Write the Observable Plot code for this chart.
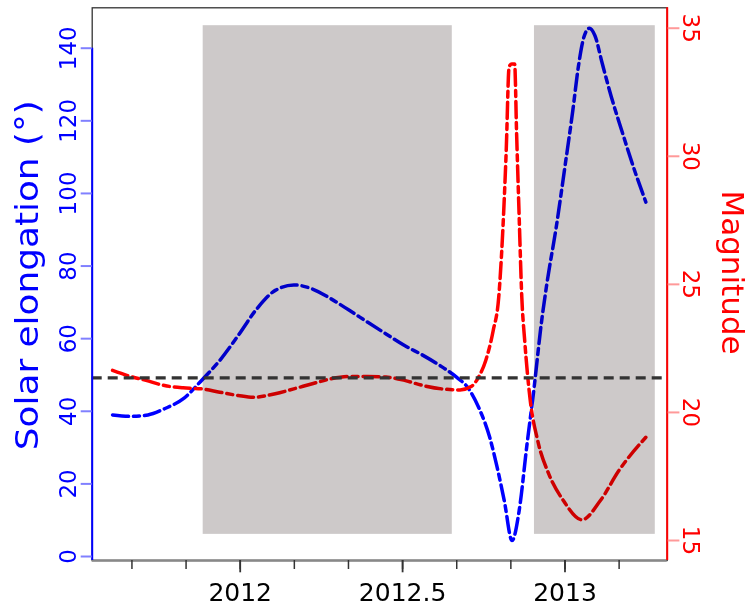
<!DOCTYPE html>
<html><head><meta charset="utf-8">
<script src="https://cdn.jsdelivr.net/npm/d3@7"></script>
<script src="https://cdn.jsdelivr.net/npm/@observablehq/plot@0.6"></script>
<style>html,body{margin:0;padding:0;background:#fff} svg{display:block}</style>
</head><body><div id="chart"></div>
<script>
// Solar elongation (degrees) vs decimal year
const blueYears = [2011.607, 2011.664, 2011.716, 2011.767, 2011.824, 2011.881, 2011.937, 2011.994, 2012.051, 2012.108, 2012.165, 2012.222, 2012.279, 2012.336, 2012.393, 2012.449, 2012.506, 2012.563, 2012.620, 2012.666, 2012.700, 2012.734, 2012.768, 2012.791, 2012.813, 2012.837, 2012.859, 2012.882, 2012.905, 2012.927, 2012.944, 2012.973, 2013.001, 2013.024, 2013.041, 2013.058, 2013.075, 2013.092, 2013.115, 2013.143, 2013.178, 2013.211, 2013.249];
const blueElong = [39.0, 38.6, 39.0, 40.7, 43.4, 48.5, 54.0, 60.9, 68.2, 73.3, 74.8, 73.7, 71.0, 67.8, 64.5, 61.3, 58.1, 55.4, 52.3, 49.4, 46.6, 41.1, 32.9, 24.6, 15.4, 4.4, 12.7, 30.1, 46.6, 64.1, 75.0, 90.7, 108.1, 122.8, 134.8, 143.0, 145.5, 143.5, 135.7, 126.5, 116.4, 107.2, 97.6];

// Magnitude vs decimal year
const redYears = [2011.607, 2011.653, 2011.710, 2011.767, 2011.824, 2011.881, 2011.937, 2011.994, 2012.040, 2012.108, 2012.165, 2012.222, 2012.279, 2012.336, 2012.393, 2012.449, 2012.506, 2012.563, 2012.620, 2012.677, 2012.711, 2012.734, 2012.756, 2012.779, 2012.796, 2012.808, 2012.819, 2012.828, 2012.836, 2012.845, 2012.851, 2012.859, 2012.867, 2012.876, 2012.893, 2012.916, 2012.950, 2012.995, 2013.052, 2013.109, 2013.166, 2013.249];
const redMag = [21.64, 21.44, 21.25, 21.05, 20.96, 20.92, 20.79, 20.66, 20.59, 20.73, 20.92, 21.12, 21.31, 21.40, 21.40, 21.38, 21.25, 21.05, 20.92, 20.88, 21.01, 21.38, 22.03, 23.20, 24.50, 26.97, 30.2, 33.5, 33.6, 33.6, 30.9, 27.6, 24.5, 22.8, 20.47, 18.90, 17.60, 16.56, 15.81, 16.56, 17.73, 19.03];

// Shaded periods
const shadeStart = [2011.886, 2012.906];
const shadeEnd = [2012.653, 2013.278];
const shadeLow = 6.1, shadeHigh = 146.2;

// Horizontal threshold (elongation units)
const threshold = 49.2;

// Tick values / labels
const elongTicks = [0, 20, 40, 60, 80, 100, 120, 140];
const magTicks = [15, 20, 25, 30, 35];
const xMinorTicks = [2011 + 8/12, 2011 + 10/12, 2012, 2012 + 2/12, 2012 + 4/12, 2012.5, 2012 + 8/12, 2012 + 10/12, 2013, 2013 + 2/12];
const xMajorTicks = [2012, 2012.5, 2013];

const xDomain = [2011.5443, 2013.3147];
const yDomain = [-1.10, 151.13];

// magnitude <-> elongation-axis mapping (secondary axis)
const magToElong = m => 4.407 + (m - 15) * 7.055;
const elongToMag = v => 15 + (v - 4.407) / 7.055;

const blue = blueYears.map((x, i) => ({x, y: blueElong[i]}));
const red = redYears.map((x, i) => ({x, y: magToElong(redMag[i])}));
const shades = shadeStart.map((x1, i) => ({x1, x2: shadeEnd[i], y1: shadeLow, y2: shadeHigh}));

const mL = 91.7, mR = 83.3, mT = 7.3, mB = 48;
const leftTitle = "Solar elongation (°)";
const rightTitle = "Magnitude";

const chart = Plot.plot({
  width: 750, height: 608,
  marginLeft: mL, marginRight: mR, marginTop: mT, marginBottom: mB,
  style: {fontFamily: "DejaVu Sans", background: "white"},
  x: {domain: xDomain},
  y: {domain: yDomain},
  marks: [
    Plot.line(blue, {x: "x", y: "y", stroke: "#0000ff", strokeWidth: 3.5, strokeDasharray: "16,5,6,5", curve: "monotone-x"}),
    Plot.line(red, {x: "x", y: "y", stroke: "#ff0000", strokeWidth: 3.5, strokeDasharray: "16,5,6,5", curve: "monotone-x"}),
    Plot.rect(shades, {x1: "x1", x2: "x2", y1: "y1", y2: "y2", fill: "#cdc9c9", mixBlendMode: "multiply"}),
    Plot.ruleY([threshold], {stroke: "#333", strokeWidth: 3.3, strokeDasharray: "10,6"}),
    Plot.frame({stroke: "#333", strokeWidth: 1.3}),
    Plot.ruleY([yDomain[0]], {stroke: "#888", strokeWidth: 2.5}),
    Plot.ruleX([xDomain[0]], {y1: () => yDomain[0], y2: () => 140, stroke: "#0000ff", strokeWidth: 2}),
    Plot.ruleX([xDomain[1]], {y1: () => yDomain[0], y2: () => yDomain[1], stroke: "#ff0000", strokeWidth: 2}),
    Plot.axisY(elongTicks, {anchor: "left", tickSize: 11, tickRotate: -90, tickPadding: 5, stroke: "#8080ff", strokeWidth: 2, fill: "#0000ff", fontSize: 23, label: null}),
    Plot.axisY(magTicks.map(magToElong), {anchor: "right", tickSize: 11.7, tickRotate: 90, tickPadding: 20, tickFormat: d => String(Math.round(elongToMag(d))), stroke: "#ff9999", strokeWidth: 2, fill: "#ff0000", fontSize: 23, label: null}),
    Plot.axisX(xMinorTicks, {tickSize: 9, tickFormat: () => "", stroke: "#333", strokeWidth: 1.5, label: null}),
    Plot.axisX(xMajorTicks, {tickSize: 12.3, tickPadding: 10.7, tickFormat: d => String(d), stroke: "#333", strokeWidth: 1.8, fill: "#000", fontSize: 25, label: null}),
    Plot.text([leftTitle], {text: d => d, frameAnchor: "left", textAnchor: "middle", dx: 27.3 - mL, dy: -9, rotate: -90, fontSize: 32, fill: "#0000ff"}),
    Plot.text([rightTitle], {text: d => d, frameAnchor: "right", textAnchor: "middle", dx: 731.5 - (750 - mR), dy: -11.6, rotate: 90, fontSize: 31, fill: "#ff0000"})
  ]
});
// stretch the left title along its length to match the reference proportions
d3.select(chart).selectAll("text")
  .filter(function() { return this.textContent === leftTitle; })
  .attr("textLength", 350)
  .attr("lengthAdjust", "spacingAndGlyphs");
document.getElementById("chart").appendChild(chart);
</script>
</body></html>
